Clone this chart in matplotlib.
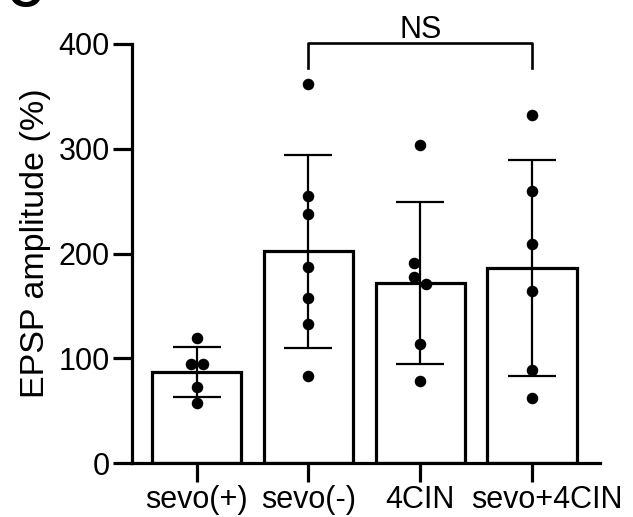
import matplotlib.pyplot as plt
import matplotlib.transforms as mtransforms
import numpy as np

plt.rcParams['font.family'] = ['Liberation Sans', 'DejaVu Sans']

groups = ['sevo(+)', 'sevo(-)', '4CIN', 'sevo+4CIN']
means = [87, 202, 172, 186]
sds = [24, 92, 77, 103]
points = [
  [119, 95, 95, 73, 57],
  [362, 255, 238, 187, 158, 133, 83],
  [304, 191, 178, 171, 114, 78],
  [332, 260, 209, 164, 89, 62],
]

def spread(vals, gap=15, step=0.055):
  # push apart dots whose values nearly overlap
  offs = np.zeros(len(vals))
  for i in range(1, len(vals)):
    if abs(vals[i] - vals[i - 1]) < gap:
      offs[i - 1] = -step
      offs[i] = step
  return offs

fig = plt.figure(figsize=(6.33, 5.17), dpi=100)
ax = fig.add_axes([0.2085, 0.1044, 0.7395, 0.8105])

x = np.arange(len(groups))
lw = 2.3
ax.bar(x, means, width=0.8, color='white', edgecolor='black', linewidth=lw, zorder=1)
ax.errorbar(x, means, yerr=sds, fmt='none', ecolor='black', elinewidth=1.6,
            capsize=17, capthick=1.6, zorder=2)
for i, vals in enumerate(points):
  ax.plot(x[i] + spread(vals), vals, 'o', color='black', ms=7.3, zorder=3, clip_on=False)

# significance bracket
b1, b2, btop, bbot = 1, 3, 401, 377
ax.plot([b1, b1, b2, b2], [bbot, btop, btop, bbot], color='black', lw=1.9, clip_on=False)
ax.text((b1 + b2) / 2, btop + 5, 'NS', ha='center', va='baseline', fontsize=22)

ax.set_xlim(-0.58, 3.61)
ax.set_ylim(0, 400)
ax.set_yticks([0, 100, 200, 300, 400])
ax.set_xticks(x)
ax.set_xticklabels(groups)
ax.set_ylabel('EPSP amplitude (%)', fontsize=24.5)
ax.yaxis.set_label_coords(-0.172, 0.524)
ax.tick_params(axis='both', labelsize=22, width=lw, length=14, pad=2)
for s in ['top', 'right']:
  ax.spines[s].set_visible(False)
for s in ['left', 'bottom']:
  ax.spines[s].set_linewidth(lw)

# last label sits a little right of its tick in the original
last = ax.get_xticklabels()[-1]
last.set_transform(last.get_transform() + mtransforms.ScaledTranslation(0.15, 0, fig.dpi_scale_trans))

fig.text(0.012, 1 - 7 / 517, 'C', fontsize=34, fontweight='bold', ha='left', va='baseline')

fig.savefig('out.png', dpi=100)
